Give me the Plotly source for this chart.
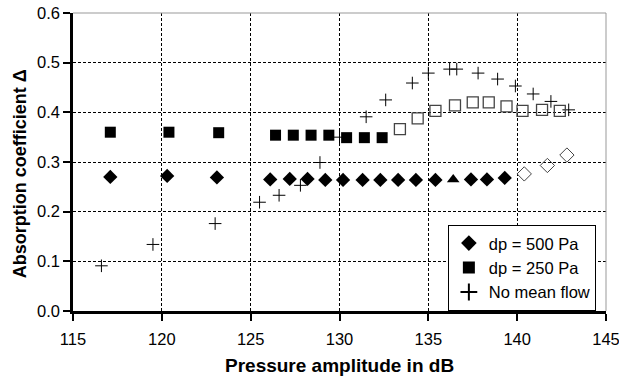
import plotly.graph_objects as go

# dp = 500 Pa (filled diamonds), one triangle, open diamonds
dp500_x = [117.1, 120.3, 123.1, 126.1, 127.2, 128.2, 129.2, 130.2, 131.3, 132.3, 133.3, 134.3, 135.4, 137.4, 138.3, 139.3]
dp500_y = [0.270, 0.272, 0.269, 0.265, 0.266, 0.266, 0.264, 0.264, 0.264, 0.264, 0.264, 0.264, 0.264, 0.265, 0.265, 0.268]
dp500_tri_x = [136.4]
dp500_tri_y = [0.265]
dp500_open_x = [140.4, 141.7, 142.8]
dp500_open_y = [0.276, 0.293, 0.314]

# dp = 250 Pa (filled squares), open squares
dp250_x = [117.1, 120.4, 123.2, 126.4, 127.4, 128.4, 129.4, 130.4, 131.4, 132.4]
dp250_y = [0.360, 0.360, 0.359, 0.354, 0.354, 0.354, 0.354, 0.349, 0.349, 0.349]
dp250_open_x = [133.4, 134.4, 135.4, 136.5, 137.5, 138.4, 139.4, 140.3, 141.4, 142.4]
dp250_open_y = [0.366, 0.388, 0.403, 0.414, 0.420, 0.420, 0.412, 0.403, 0.405, 0.403]

# No mean flow (crosses)
nmf_x = [116.6, 119.5, 123.0, 125.5, 126.6, 127.8, 128.9, 130.0, 131.5, 132.6, 134.1, 135.0, 136.2, 136.6, 137.8, 138.9, 139.9, 140.9, 141.9, 142.9]
nmf_y = [0.091, 0.134, 0.176, 0.219, 0.233, 0.253, 0.299, 0.350, 0.391, 0.425, 0.459, 0.479, 0.487, 0.487, 0.479, 0.467, 0.453, 0.437, 0.422, 0.405]

x_ticks = [115, 120, 125, 130, 135, 140, 145]
y_ticks = [0.0, 0.1, 0.2, 0.3, 0.4, 0.5, 0.6]
x_title = "Pressure amplitude in dB"
y_title = "Absorption coefficient Δ"

fig = go.Figure()
fig.add_trace(go.Scatter(x=dp500_x, y=dp500_y, mode="markers", name="dp = 500 Pa",
                         marker=dict(symbol="diamond", size=11, color="black")))
fig.add_trace(go.Scatter(x=dp250_x, y=dp250_y, mode="markers", name="dp = 250 Pa",
                         marker=dict(symbol="square", size=11, color="black")))
fig.add_trace(go.Scatter(x=nmf_x, y=nmf_y, mode="markers", name="No mean flow",
                         marker=dict(symbol="cross-thin", size=9, color="black",
                                     line=dict(width=1, color="black"))))
fig.add_trace(go.Scatter(x=dp500_tri_x, y=dp500_tri_y, mode="markers", showlegend=False,
                         marker=dict(symbol="triangle-up", size=11, color="black")))
fig.add_trace(go.Scatter(x=dp500_open_x, y=dp500_open_y, mode="markers", showlegend=False,
                         marker=dict(symbol="diamond-open", size=11, color="#444",
                                     line=dict(width=1, color="#444"))))
fig.add_trace(go.Scatter(x=dp250_open_x, y=dp250_open_y, mode="markers", showlegend=False,
                         marker=dict(symbol="square-open", size=11, color="#444",
                                     line=dict(width=1.3, color="#444"))))

font_family = "Liberation Sans, Arial, sans-serif"

fig.update_layout(
    width=619, height=381,
    margin=dict(l=73, r=13, t=13, b=70, autoexpand=False),
    paper_bgcolor="white", plot_bgcolor="white",
    font=dict(family=font_family, size=16.5, color="black"),
    showlegend=True,
    legend=dict(x=0.981, y=0.289, xanchor="right", yanchor="top",
                bgcolor="white", bordercolor="black", borderwidth=1,
                font=dict(size=16.5), itemsizing="constant",
                tracegroupgap=0, itemwidth=30),
    xaxis=dict(range=[115, 145], tickvals=x_ticks, ticktext=[str(v) for v in x_ticks],
               showgrid=True, gridcolor="black", griddash="3px,2px", gridwidth=1,
               showline=True, linecolor="black", linewidth=2.5,
               ticks="outside", ticklen=7, tickwidth=2, tickcolor="black",
               ticklabelstandoff=4, ticklabeloverflow="allow",
               automargin=False, zeroline=False),
    yaxis=dict(range=[0, 0.6], tickvals=y_ticks, ticktext=[f"{v:.1f}" for v in y_ticks],
               showgrid=True, gridcolor="black", griddash="3px,2px", gridwidth=1,
               showline=True, linecolor="black", linewidth=2.5,
               ticks="outside", ticklen=7, tickwidth=2, tickcolor="black",
               automargin=False, zeroline=False),
    shapes=[
        dict(type="line", xref="paper", yref="paper", x0=0, x1=1, y0=1, y1=1,
             line=dict(color="#999", width=1)),
        dict(type="line", xref="paper", yref="paper", x0=1, x1=1, y0=0, y1=1,
             line=dict(color="#999", width=1)),
    ],
    annotations=[
        dict(text=f"<b>{x_title}</b>", xref="paper", yref="paper", x=0.5, y=-0.142,
             xanchor="center", yanchor="top", showarrow=False, font=dict(size=19)),
        dict(text=f"<b>{y_title}</b>", xref="paper", yref="paper", x=-0.1, y=0.461,
             xanchor="center", yanchor="middle", textangle=-90, showarrow=False,
             font=dict(size=18)),
    ],
)

fig.write_html("out.html")
